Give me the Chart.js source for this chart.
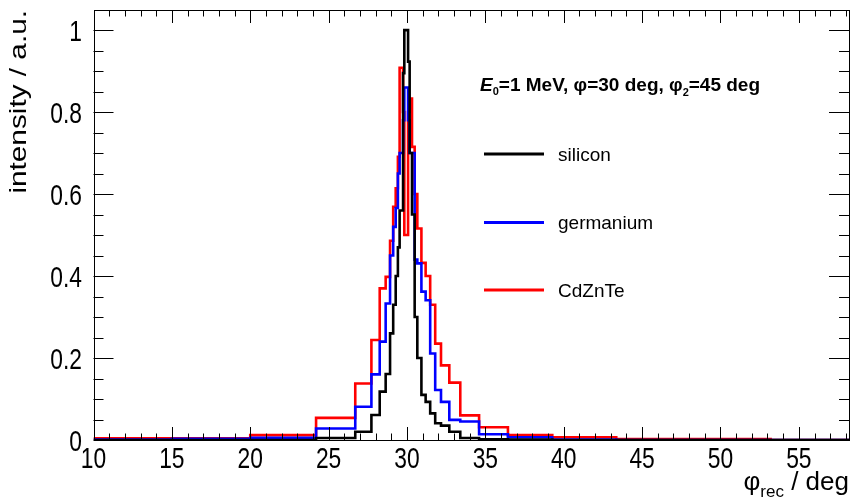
<!DOCTYPE html>
<html>
<head>
<meta charset="utf-8">
<script src="https://cdn.jsdelivr.net/npm/chart.js@4.4.1/dist/chart.umd.min.js"></script>
<style>
  html, body { margin: 0; padding: 0; background: #fff; }
  canvas { display: block; }
</style>
</head>
<body>
<canvas id="phiChart" width="850" height="499"></canvas>
<script>
// variable-width bin edges of phi_rec (deg)
var binEdges = [10, 15, 20, 24.2, 26.7, 27.73, 28.26, 28.64, 28.92, 29.12, 29.28, 29.42, 29.53, 29.75, 29.83,
                30.07, 30.17, 30.32, 30.49, 30.66, 30.92, 31.19, 31.48, 31.8, 32.17, 32.7, 33.4, 34.6, 36.44, 39.27,
                43.35, 53.2, 58.2];

// bin contents, one per bin (normalised to the silicon maximum)
var siliconCounts = [0, 0, 0, 0.005, 0.02, 0.061, 0.118, 0.161, 0.26, 0.33, 0.40, 0.47, 0.56, 0.895, 1.0,
                     0.923, 0.70, 0.55, 0.30, 0.2, 0.11, 0.093, 0.065, 0.041, 0.035, 0.02, 0.005, 0.002, 0.001,
                     0, 0, 0];
var germaniumCounts = [0.001, 0.003, 0.0055, 0.028, 0.081, 0.16, 0.24, 0.333, 0.45, 0.52, 0.566, 0.65, 0.70, 0.78, 0.86,
                       0.78, 0.70, 0.70, 0.44, 0.431, 0.362, 0.341, 0.211, 0.122, 0.093, 0.049, 0.045, 0.014, 0.0066,
                       0.001, 0, 0];
var cdznteCounts = [0.004, 0.004, 0.012, 0.054, 0.138, 0.244, 0.37, 0.398, 0.486, 0.569, 0.614, 0.691, 0.908, 0.80, 0.5,
                    0.80, 0.833, 0.715, 0.60, 0.516, 0.432, 0.40, 0.33, 0.235, 0.182, 0.14, 0.06, 0.031, 0.012,
                    0.0066, 0.0025, 0];

var seriesNames = ["silicon", "germanium", "CdZnTe"];
var seriesColors = ["#000000", "#0000ff", "#ff0000"];

var xTickStep = 5;
var yTickStep = 0.2;

var FONT = '"Liberation Sans", Arial, Helvetica, sans-serif';

// histogram outline: one point per edge, value held until the next edge
function histPoints(counts) {
    var pts = [];
    for (var i = 0; i < binEdges.length; i++) {
        var v = i < counts.length ? counts[i] : counts[counts.length - 1];
        pts.push({ x: binEdges[i], y: v });
    }
    return pts;
}

function drawText(ctx, text, x, y, font, align, sx, sy) {
    ctx.save();
    ctx.translate(x, y);
    ctx.scale(sx || 1, sy || 1);
    ctx.font = font;
    ctx.textAlign = align || 'left';
    ctx.textBaseline = 'alphabetic';
    ctx.fillStyle = '#000';
    ctx.fillText(text, 0, 0);
    ctx.restore();
}

// draw a run of text pieces (for subscripts), returns end x
function drawRich(ctx, parts, x, y) {
    var cx = x;
    parts.forEach(function (p) {
        drawText(ctx, p.t, cx, y + (p.dy || 0), p.font, 'left');
        ctx.font = p.font;
        cx += ctx.measureText(p.t).width;
    });
    return cx;
}

function richWidth(ctx, parts) {
    var w = 0;
    parts.forEach(function (p) { ctx.font = p.font; w += ctx.measureText(p.t).width; });
    return w;
}

var rootStyle = {
    id: 'rootStyle',
    afterDatasetsDraw: function (chart) {
        var ctx = chart.ctx, a = chart.chartArea;
        var xs = chart.scales.x, ys = chart.scales.y;
        ctx.save();
        ctx.strokeStyle = '#000';
        ctx.lineWidth = 1;

        // frame
        ctx.strokeRect(Math.round(a.left) + 0.5, Math.round(a.top) + 0.5,
                       Math.round(a.right - a.left) - 1, Math.round(a.bottom - a.top));

        ctx.beginPath();
        // x ticks, bottom and top, pointing inwards
        for (var i = Math.ceil(xs.min); i <= xs.max; i++) {
            var px = Math.round(xs.getPixelForValue(i)) + 0.5;
            var len = (i % xTickStep === 0) ? 13 : 6.5;
            ctx.moveTo(px, a.bottom); ctx.lineTo(px, a.bottom - len);
            ctx.moveTo(px, a.top); ctx.lineTo(px, a.top + len);
        }
        // y ticks, left and right
        for (var k = 0; k * 0.05 <= ys.max + 1e-9; k++) {
            var py = Math.round(ys.getPixelForValue(k * 0.05)) + 0.5;
            var ylen = (k % 4 === 0) ? 20 : 10;
            ctx.moveTo(a.left, py); ctx.lineTo(a.left + ylen, py);
            ctx.moveTo(a.right, py); ctx.lineTo(a.right - ylen, py);
        }
        ctx.stroke();

        // tick labels
        xs.ticks.forEach(function (t) {
            drawText(ctx, String(t.value), xs.getPixelForValue(t.value), 468, '30px ' + FONT, 'center', 0.76, 1);
        });
        ys.ticks.forEach(function (t) {
            var v = t.value;
            var lab = (Math.abs(v) < 1e-9) ? '0' : (Math.abs(v - 1) < 1e-9 ? '1' : v.toFixed(1));
            drawText(ctx, lab, 82, ys.getPixelForValue(v) + 10.5, '30px ' + FONT, 'right', 0.76, 1);
        });

        // y title
        ctx.save();
        ctx.translate(26, a.top);
        ctx.rotate(-Math.PI / 2);
        ctx.scale(1.24, 1);
        ctx.font = '24px ' + FONT;
        ctx.textAlign = 'right';
        ctx.fillStyle = '#000';
        ctx.fillText('intensity / a.u.', 0, 0);
        ctx.restore();

        // x title
        var xt = [
            { t: '\u03c6', font: '26px ' + FONT },
            { t: 'rec', font: '17px ' + FONT, dy: 7 },
            { t: ' / deg', font: '26px ' + FONT }
        ];
        drawRich(ctx, xt, a.right - richWidth(ctx, xt), 490);

        // annotation
        drawRich(ctx, [
            { t: 'E', font: 'italic bold 19px ' + FONT },
            { t: '0', font: 'bold 11px ' + FONT, dy: 4 },
            { t: '=1 MeV, \u03c6=30 deg, \u03c6', font: 'bold 19px ' + FONT },
            { t: '2', font: 'bold 11px ' + FONT, dy: 5 },
            { t: '=45 deg', font: 'bold 19px ' + FONT }
        ], 480, 91);

        // legend
        var legendY = [154, 222.5, 290];
        chart.data.datasets.forEach(function (ds, j) {
            ctx.beginPath();
            ctx.strokeStyle = ds.borderColor;
            ctx.lineWidth = 3;
            ctx.moveTo(484, legendY[j]); ctx.lineTo(544, legendY[j]);
            ctx.stroke();
            drawText(ctx, ds.label, 558, legendY[j] + 6.5, '19px ' + FONT, 'left');
        });
        ctx.restore();
    }
};

var datasets = [siliconCounts, germaniumCounts, cdznteCounts].map(function (c, j) {
    return {
        label: seriesNames[j],
        data: histPoints(c),
        borderColor: seriesColors[j],
        backgroundColor: seriesColors[j],
        borderWidth: 2.6,
        stepped: 'before',
        pointRadius: 0,
        fill: false,
        tension: 0
    };
});

var phiChart = new Chart(document.getElementById('phiChart'), {
    type: 'line',
    data: { datasets: datasets },
    options: {
        responsive: false,
        animation: false,
        devicePixelRatio: 1,
        layout: { padding: { left: 0, right: 1, top: 10, bottom: 0 } },
        plugins: { legend: { display: false }, tooltip: { enabled: false } },
        scales: {
            x: {
                type: 'linear', min: 10, max: 58.2,
                grid: { display: false }, border: { display: false },
                ticks: { display: false, stepSize: xTickStep, includeBounds: false },
                afterFit: function (s) { s.height = 59; }
            },
            y: {
                type: 'linear', min: 0, max: 1.049,
                grid: { display: false }, border: { display: false },
                ticks: { display: false, stepSize: yTickStep, includeBounds: false },
                afterFit: function (s) { s.width = 93.5; }
            }
        }
    },
    plugins: [rootStyle]
});
</script>
</body>
</html>
